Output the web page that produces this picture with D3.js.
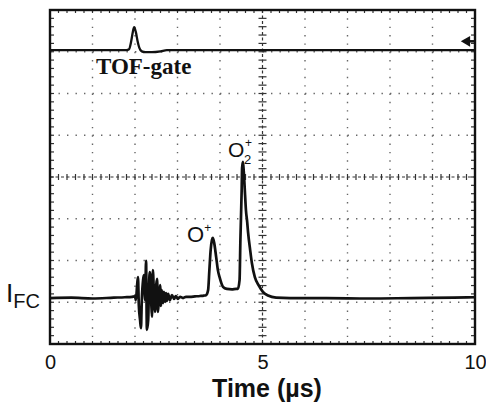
<!DOCTYPE html>
<html>
<head>
<meta charset="utf-8">
<script src="https://cdn.jsdelivr.net/npm/d3@7"></script>
<style>
  body { margin: 0; background: #fff; }
  svg { display: block; }
</style>
</head>
<body>
<div id="chart"></div>
<script>
// oscilloscope screen: time in µs, signal in screen divisions
var xTicks = [0, 5, 10];

// TOF-gate trace (upper channel)
var gateT = [0, 1.80, 1.86, 1.91, 1.95, 1.98, 2.02, 2.06, 2.10, 2.16, 2.25, 2.40, 2.60, 2.75, 10];
var gateV = [3.04, 3.04, 3.06, 3.25, 3.48, 3.59, 3.47, 3.26, 3.10, 3.01, 2.99, 2.99, 3.01, 3.04, 3.04];

// Faraday cup current (lower channel)
var traceT = [
  0, 0.5, 1.0, 1.5, 1.76, 1.93, 2.00,
  2.02, 2.05, 2.07, 2.09, 2.12, 2.14, 2.16, 2.19, 2.21, 2.24,
  2.26, 2.28, 2.31, 2.33, 2.35, 2.38, 2.40, 2.42, 2.45, 2.47,
  2.49, 2.52, 2.54, 2.56, 2.59, 2.61, 2.63, 2.66, 2.68, 2.71,
  2.73, 2.75, 2.78, 2.82, 2.87, 2.92, 2.96, 3.01, 3.06, 3.13,
  3.20, 3.29, 3.41, 3.53, 3.62,
  3.67, 3.72, 3.75, 3.78, 3.81, 3.83, 3.86, 3.91, 3.95, 3.99,
  4.07, 4.16, 4.28, 4.38, 4.42, 4.46, 4.48, 4.51, 4.52, 4.54,
  4.56, 4.59, 4.61, 4.64, 4.66, 4.71, 4.75, 4.82, 4.92, 5.01,
  5.13, 5.32, 5.65, 6.5, 7.5, 8.5, 9.5, 10
];
var traceV = [
  -2.90, -2.89, -2.91, -2.89, -2.88, -2.87, -2.86,
  -2.95, -2.59, -2.40, -3.07, -3.43, -3.62, -2.95, -2.47, -2.35, -2.95,
  -2.01, -3.66, -3.43, -2.59, -2.28, -2.95, -3.35, -2.23, -2.95, -3.23,
  -2.71, -2.44, -3.23, -2.95, -2.59, -3.09, -2.71, -3.02, -2.75, -2.99,
  -2.78, -2.97, -2.80, -2.95, -2.83, -2.92, -2.85, -2.92, -2.87, -2.90,
  -2.87, -2.87, -2.86, -2.85, -2.84,
  -2.83, -2.71, -2.23, -1.75, -1.51, -1.46, -1.56, -1.92, -2.23, -2.40,
  -2.63, -2.68, -2.69, -2.68, -2.68, -2.47, -1.51, -0.31, 0.22, 0.36,
  0.12, -0.43, -0.79, -1.08, -1.32, -1.75, -2.06, -2.40, -2.61, -2.75,
  -2.84, -2.89, -2.90, -2.90, -2.91, -2.90, -2.89, -2.88
];

var W = 486, H = 404;
var x = d3.scaleLinear().domain([0, 10]).range([50, 475]);
var y = d3.scaleLinear().domain([-4, 4]).range([344, 10]);
var ink = '#111';

var svg = d3.select('#chart').append('svg').attr('width', W).attr('height', H);

// ─── Graticule ───
var minorX = (x(1) - x(0)) / 5, minorY = (y(0) - y(1)) / 5;
var grid = svg.append('g').attr('stroke', '#666').attr('stroke-width', 1.4);
d3.range(1, 10).filter(function(d) { return d !== 5; }).forEach(function(d) {
  grid.append('line').attr('x1', x(d)).attr('x2', x(d)).attr('y1', y(4)).attr('y2', y(-4))
    .attr('stroke-dasharray', '1.4,' + (minorY - 1.4));
});
d3.range(-3, 4).filter(function(d) { return d !== 0; }).forEach(function(d) {
  grid.append('line').attr('x1', x(0)).attr('x2', x(10)).attr('y1', y(d)).attr('y2', y(d))
    .attr('stroke-dasharray', '1.4,' + (minorX - 1.4));
});

// centre axes with minor ticks
var cx = svg.append('g').attr('stroke', '#333').attr('stroke-width', 1.2);
cx.append('line').attr('x1', x(0)).attr('x2', x(10)).attr('y1', y(0)).attr('y2', y(0)).attr('stroke-dasharray', '3,2.5');
cx.append('line').attr('x1', x(5)).attr('x2', x(5)).attr('y1', y(4)).attr('y2', y(-4)).attr('stroke-dasharray', '3,2.5');
d3.range(0, 10.01, 0.2).forEach(function(d) {
  cx.append('line').attr('x1', x(d)).attr('x2', x(d)).attr('y1', y(0) - 3).attr('y2', y(0) + 3);
  cx.append('line').attr('x1', x(d)).attr('x2', x(d)).attr('y1', y(4)).attr('y2', y(4) + 3);
  cx.append('line').attr('x1', x(d)).attr('x2', x(d)).attr('y1', y(-4)).attr('y2', y(-4) - 3);
});
d3.range(-4, 4.01, 0.2).forEach(function(d) {
  cx.append('line').attr('x1', x(5) - 4).attr('x2', x(5) + 4).attr('y1', y(d)).attr('y2', y(d));
  cx.append('line').attr('x1', x(0)).attr('x2', x(0) + 4).attr('y1', y(d)).attr('y2', y(d));
  cx.append('line').attr('x1', x(10)).attr('x2', x(10) - 4).attr('y1', y(d)).attr('y2', y(d));
});

// frame
svg.append('rect').attr('x', x(0)).attr('y', y(4)).attr('width', x(10) - x(0)).attr('height', y(-4) - y(4))
  .attr('fill', 'none').attr('stroke', ink).attr('stroke-width', 2.4);

// ─── Traces ───
var line = d3.line()
  .x(function(d) { return x(d[0]); })
  .y(function(d) { return y(d[1]); })
  .curve(d3.curveMonotoneX);

svg.append('path').datum(d3.zip(gateT, gateV)).attr('d', line)
  .attr('fill', 'none').attr('stroke', ink).attr('stroke-width', 2.3);
svg.append('path').datum(d3.zip(traceT, traceV)).attr('d', line)
  .attr('fill', 'none').attr('stroke', ink).attr('stroke-width', 2.7).attr('stroke-linejoin', 'round');

// trigger level marker
svg.append('path').attr('d', d3.symbol(d3.symbolTriangle, 50)())
  .attr('transform', 'translate(' + (x(10) - 8) + ',' + y(3.25) + ') rotate(-90)').attr('fill', ink);
svg.append('line').attr('x1', x(10) - 8).attr('x2', x(10)).attr('y1', y(3.25)).attr('y2', y(3.25))
  .attr('stroke', ink).attr('stroke-width', 2.5);

// ─── Labels ───
var sans = 'Liberation Sans, Arial, sans-serif';
svg.append('text').attr('x', 96).attr('y', 74).text('TOF-gate')
  .attr('font-family', 'Liberation Serif, Times New Roman, serif').attr('font-weight', 700)
  .attr('font-size', '23px').attr('fill', ink);

var oPlus = svg.append('text').attr('x', 187).attr('y', 242).attr('font-family', sans).attr('fill', ink).attr('font-size', '22px');
oPlus.append('tspan').text('O');
oPlus.append('tspan').attr('dy', -10).attr('font-size', '12px').text('+');

var o2Plus = svg.append('text').attr('x', 228).attr('y', 157).attr('font-family', sans).attr('fill', ink).attr('font-size', '21px');
o2Plus.append('tspan').text('O');
o2Plus.append('tspan').attr('x', 244).attr('dy', 7).attr('font-size', '13px').text('2');
o2Plus.append('tspan').attr('x', 245).attr('dy', -17).attr('font-size', '12px').text('+');

var ifc = svg.append('text').attr('x', 6).attr('y', 302).attr('font-family', sans).attr('fill', ink).attr('font-size', '26px');
ifc.append('tspan').text('I');
ifc.append('tspan').attr('dy', 6).attr('font-size', '20px').text('FC');

var xAxis = d3.axisBottom(x).tickValues(xTicks).tickSize(0).tickPadding(11).tickFormat(d3.format('d'));
var ax = svg.append('g').attr('transform', 'translate(0,' + y(-4) + ')').call(xAxis);
ax.select('.domain').remove();
ax.selectAll('text').attr('font-family', sans).attr('font-size', '20px').attr('fill', ink);

svg.append('text').attr('x', 267).attr('y', 397).attr('text-anchor', 'middle').text('Time (µs)')
  .attr('font-family', sans).attr('font-weight', 700).attr('font-size', '25px').attr('fill', ink);
</script>
</body>
</html>
